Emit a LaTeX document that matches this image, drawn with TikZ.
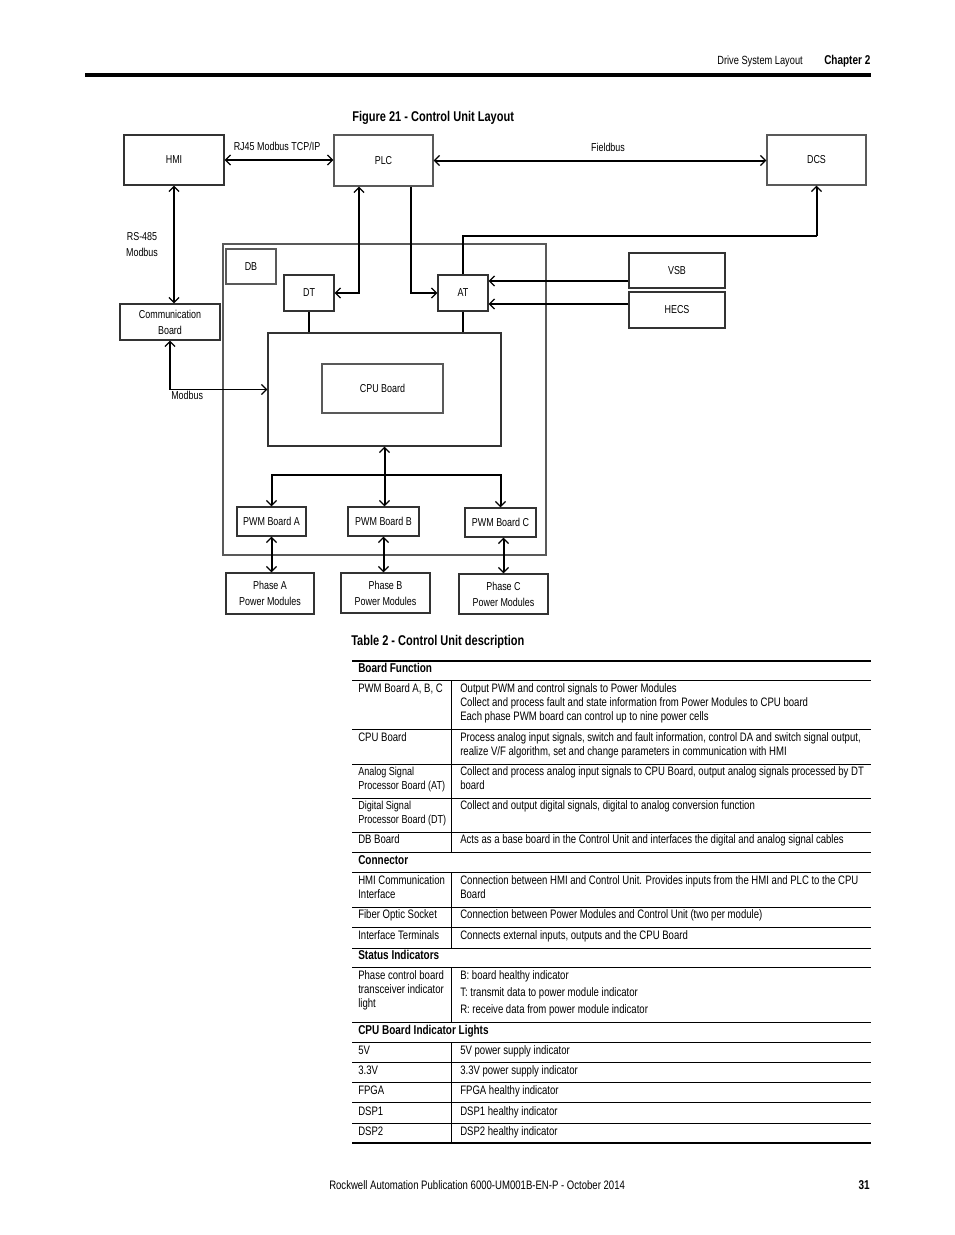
\documentclass[tikz,border=0pt]{standalone}
\usepackage{fontspec}
\setmainfont{Liberation Sans}[FakeStretch=0.78]
\usetikzlibrary{arrows.meta,calc}
\newcommand{\tabfont}{\fontsize{9.2}{10.5}\selectfont}
\newcommand{\dgfont}{\fontsize{8.6}{12}\selectfont}
\begin{document}
\begin{tikzpicture}[x=0.75pt,y=-0.75pt,
  >={Straight Barb[length=3.8pt,width=7.5pt,line width=1pt]},
  box/.style={draw=black!80,line width=0.8pt,inner sep=0pt,font=\dgfont,align=center},
  gbox/.style={box,draw=black!65},
  lbl/.style={inner sep=0pt,font=\dgfont,align=center},
  thk/.style={line width=1.5pt},
  thn/.style={line width=0.8pt},
  tb/.style={anchor=base west,inner sep=0pt,font=\tabfont,align=left},
  tbn/.style={tb,font=\fontsize{8.7}{10.5}\selectfont},
  tbh/.style={anchor=base west,inner sep=0pt,font=\fontsize{9.6}{10.5}\selectfont\bfseries},
  hline/.style={line width=0.75pt},
  Hline/.style={line width=2.2pt}]
\useasboundingbox (0,0) rectangle (954,1235);

% page header
\node[anchor=base east,inner sep=0pt,font=\fontsize{8.9}{10}\selectfont] (hdr) at (803,64) {Drive System Layout};
\node[anchor=base west,inner sep=0pt,font=\fontsize{9.6}{10}\selectfont\bfseries] (chap) at (824,64) {Chapter 2};
\draw[line width=3pt] (85,75) -- (871,75);

\node[anchor=base west,inner sep=0pt,font=\fontsize{10.6}{12}\selectfont\bfseries] (fig) at (352,121) {Figure 21 - Control Unit Layout};

% boxes
\node[box,minimum width=75pt,minimum height=37.5pt] (hmi) at (174,160) {HMI};
\node[gbox,minimum width=74.25pt,minimum height=38.25pt] (plc) at (383.5,160.5) {PLC};
\node[gbox,minimum width=74.25pt,minimum height=37.5pt] (dcs) at (816.5,160) {DCS};
\node[box,minimum width=75pt,minimum height=27pt] (comm) at (170,322) {Communication\\Board};
\node[gbox,minimum width=242.25pt,minimum height=233.25pt] (dbo) at (384.5,399.5) {};
\node[gbox,minimum width=37.5pt,minimum height=26.25pt] (db) at (251,266.5) {DB};
\node[box,minimum width=37.5pt,minimum height=27pt] (dt) at (309,293) {DT};
\node[box,minimum width=37.5pt,minimum height=27pt] (at) at (463,293) {AT};
\node[box,minimum width=72pt,minimum height=26.25pt] (vsb) at (677,270.5) {VSB};
\node[box,minimum width=72pt,minimum height=27pt] (hecs) at (677,310) {HECS};
\node[box,minimum width=174.75pt,minimum height=84.75pt] (cpuo) at (384.5,389.5) {};
\node[gbox,minimum width=90.75pt,minimum height=36.75pt] (cpu) at (382.5,388.5) {CPU Board};
\node[box,minimum width=51.75pt,minimum height=21.75pt] (pwma) at (271.5,521.5) {PWM Board A};
\node[box,minimum width=53.25pt,minimum height=21.75pt] (pwmb) at (383.5,521.5) {PWM Board B};
\node[box,minimum width=53.25pt,minimum height=21.75pt] (pwmc) at (500.5,522.5) {PWM Board C};
\node[box,minimum width=66pt,minimum height=30.75pt] (pha) at (270,593.5) {Phase A\\Power Modules};
\node[box,minimum width=66.75pt,minimum height=30pt] (phb) at (385.5,593) {Phase B\\Power Modules};
\node[box,minimum width=66.75pt,minimum height=30pt] (phc) at (503.5,594) {Phase C\\Power Modules};

% labels
\node[lbl] (rj) at (277,146) {RJ45 Modbus TCP/IP};
\node[lbl] (fb) at (608,147) {Fieldbus};
\node[lbl] (rs) at (142,245) {RS-485\\Modbus};

% connectors
\draw[thk,<->] (hmi.east) -- (hmi.east -| plc.west);
\draw[thk,<->] (plc.east) -- (plc.east -| dcs.west);
\draw[line width=1.1pt,<->] (hmi.south) -- (hmi.south |- comm.north);

\coordinate (mb) at (comm.south |- cpuo.west);
\draw[thk,<-] (comm.south) -- (mb);
\draw[thn,->] (mb) -- (cpuo.west);
\node[lbl,anchor=north west] (mbl) at ($(mb)+(1,1)$) {Modbus};

\coordinate (ps1) at ($(plc.south)+(-24.5,0)$);
\coordinate (ps2) at ($(plc.south)+(27.5,0)$);
\draw[thk,<->] (ps1) |- (dt.east);
\draw[thk,->] (ps2) |- (at.west);

\coordinate (k1) at (at.north |- 0,236);
\coordinate (k2) at (dcs.south |- 0,236);
\draw[thn] (at.north) -- (k1) -- (k2);
\draw[thk,->] (k2) -- (dcs.south);

\draw[thk,->] (vsb.west |- 0,281) -- (at.east |- 0,281);
\draw[thk,->] (hecs.west |- 0,304) -- (at.east |- 0,304);

\draw[thn] (dt.south) -- (dt.south |- cpuo.north);
\draw[thn] (at.south) -- (at.south |- cpuo.north);

\coordinate (br) at (cpuo.south |- 0,475);
\draw[thk,<->] (cpuo.south) -- (cpuo.south |- pwmb.north);
\draw[thk,->] (br) -| (pwma.north);
\draw[thk,->] (br) -| (pwmc.north);

\draw[thk,<->] (pwma.south) -- (pwma.south |- pha.north);
\draw[thk,<->] (pwmb.south) -- (pwmb.south |- phb.north);
\draw[thk,<->] (phc.north |- pwmc.south) -- (phc.north);

% table (multi-line cells are placed by the baseline of their last line)
\node[anchor=base west,inner sep=0pt,font=\fontsize{10.6}{12}\selectfont\bfseries] (tt) at (351,645) {Table 2 - Control Unit description};
\draw[Hline] (352,661) -- (871,661);
\foreach \yy in {680,729,764,798,832,852,872,907,927,948,967,1022,1042,1062,1082,1102,1123}
  \draw[hline] (352,\yy) -- (871,\yy);
\draw[Hline] (352,1143) -- (871,1143);
\draw[hline] (451,680) -- (451,852);
\draw[hline] (451,872) -- (451,948);
\draw[hline] (451,967) -- (451,1022);
\draw[hline] (451,1042) -- (451,1143);

\node[tbh] (h1) at (358,672) {Board Function};
\node[tb] (r1a) at (358,692) {PWM Board A, B, C};
\node[tb] (r1b) at (460,720) {Output PWM and control signals to Power Modules\\Collect and process fault and state information from Power Modules to CPU board\\Each phase PWM board can control up to nine power cells};
\node[tb] (r2a) at (358,741) {CPU Board};
\node[tb] (r2b) at (460,755) {Process analog input signals, switch and fault information, control DA and switch signal output,\\realize V/F algorithm, set and change parameters in communication with HMI};
\node[tbn] (r3a) at (358,789) {Analog Signal\\Processor Board (AT)};
\node[tb] (r3b) at (460,789) {Collect and process analog input signals to CPU Board, output analog signals processed by DT\\board};
\node[tbn] (r4a) at (358,823) {Digital Signal\\Processor Board (DT)};
\node[tb] (r4b) at (460,809) {Collect and output digital signals, digital to analog conversion function};
\node[tb] (r5a) at (358,843) {DB Board};
\node[tb] (r5b) at (460,843) {Acts as a base board in the Control Unit and interfaces the digital and analog signal cables};
\node[tbh] (h2) at (358,864) {Connector};
\node[tb] (r6a) at (358,898) {HMI Communication\\Interface};
\node[tb] (r6b) at (460,898) {Connection between HMI and Control Unit. Provides inputs from the HMI and PLC to the CPU\\Board};
\node[tb] (r7a) at (358,918) {Fiber Optic Socket};
\node[tb] (r7b) at (460,918) {Connection between Power Modules and Control Unit (two per module)};
\node[tb] (r8a) at (358,939) {Interface Terminals};
\node[tb] (r8b) at (460,939) {Connects external inputs, outputs and the CPU Board};
\node[tbh] (h3) at (358,959) {Status Indicators};
\node[tb] (r9a) at (358,1007) {Phase control board\\transceiver indicator\\light};
\node[tb] (r9b) at (460,1013) {B: board healthy indicator\\[2.25pt]T: transmit data to power module indicator\\[2.25pt]R: receive data from power module indicator};
\node[tbh] (h4) at (358,1034) {CPU Board Indicator Lights};
\node[tb] (r10a) at (358,1054) {5V};
\node[tb] (r10b) at (460,1054) {5V power supply indicator};
\node[tb] (r11a) at (358,1074) {3.3V};
\node[tb] (r11b) at (460,1074) {3.3V power supply indicator};
\node[tb] (r12a) at (358,1094) {FPGA};
\node[tb] (r12b) at (460,1094) {FPGA healthy indicator};
\node[tb] (r13a) at (358,1115) {DSP1};
\node[tb] (r13b) at (460,1115) {DSP1 healthy indicator};
\node[tb] (r14a) at (358,1135) {DSP2};
\node[tb] (r14b) at (460,1135) {DSP2 healthy indicator};

% footer
\node[anchor=base west,inner sep=0pt,font=\fontsize{9.2}{10}\selectfont] (foot) at (329,1189) {Rockwell Automation Publication 6000-UM001B-EN-P - October 2014};
\node[anchor=base east,inner sep=0pt,font=\fontsize{9.6}{10}\selectfont\bfseries] (pg) at (870,1189) {31};
\end{tikzpicture}
\end{document}
